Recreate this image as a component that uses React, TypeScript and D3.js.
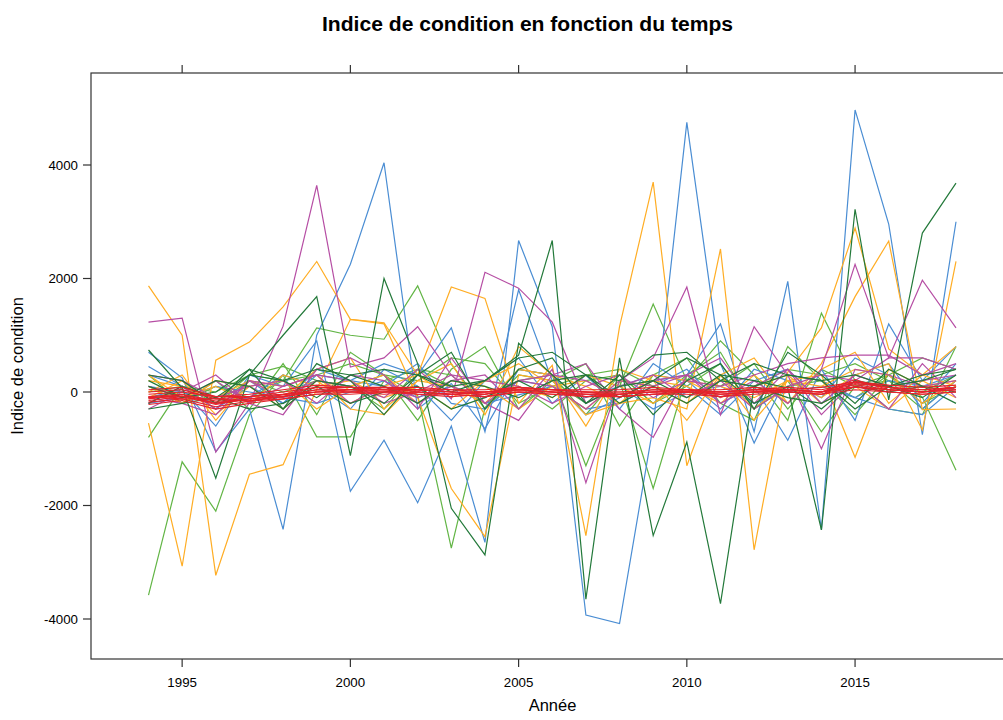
import React from 'react';
import * as d3 from 'd3';

const years = [1994, 1995, 1996, 1997, 1998, 1999, 2000, 2001, 2002, 2003, 2004, 2005, 2006, 2007, 2008, 2009, 2010, 2011, 2012, 2013, 2014, 2015, 2016, 2017, 2018];
const xTickValues = [1995, 2000, 2005, 2010, 2015];
const yTickValues = [-4000, -2000, 0, 2000, 4000];

const blueSeries = [
  [700, 250, -1050, -300, -2420, 1000, 2250, 4040, -300, 150, -650, 400, 300, -200, 100, 300, 200, -300, 400, 200, -100, 600, 300, -200, 500],
  [-100, 50, -600, 300, 100, 900, -1750, -850, -1950, -600, -2650, 2670, 1150, -3930, -4080, -600, 4750, 500, -900, 300, 200, -100, 200, 100, 300],
  [300, 100, -300, 100, -200, 300, 200, 500, 300, 1130, -700, 1800, 200, -400, -100, 200, 300, 1200, -700, 1950, -2430, 4970, 2960, -750, 3000],
  [450, 100, -300, 200, -200, 400, 200, 100, 500, -200, -300, 200, 100, -300, -200, 100, 400, -200, 100, -850, 400, -500, 1200, 200, 800],
  [-200, -100, 100, 0, -100, -200, 0, 200, -100, 100, -200, -50, 100, -100, 100, -300, 0, 100, -200, 0, 100, -100, -300, -400, 100],
  [100, 0, -200, -100, 300, 100, -300, 400, 100, -500, 200, 600, -200, 300, -300, 500, 100, -400, 200, 400, -200, 300, 500, -300, 200],
];
const orangeSeries = [
  [-550, -3070, 560, 880, 1500, 2300, 1280, 1220, 300, -100, 200, 500, 100, -300, 200, 100, -200, 300, -300, 200, 100, 400, 300, -200, 200],
  [1870, 1000, -3230, -1450, -1280, 50, 1280, 1200, -100, -1700, -2550, 300, 200, -400, -200, 300, 200, -100, 100, 300, -200, 100, -300, 200, -100],
  [100, -200, 200, 100, -300, 200, -200, 100, 300, 1850, 1650, -200, 470, -2530, 1150, 3700, -1300, 300, -500, 200, 300, -1150, 400, 100, 200],
  [200, 100, -100, 200, 100, 300, -300, -400, 200, 100, -200, 400, 300, 100, -200, -100, -300, 2520, -2780, 350, 1130, 2890, 760, 300, 800],
  [-100, 200, -400, 100, 200, -300, 100, 300, -200, 200, 100, -300, 100, 200, -100, 200, 100, -200, 300, -200, 500, 1680, 2660, -310, -300],
  [300, -100, 100, -200, 300, 100, 200, -100, 100, -300, 200, 100, -100, 300, 100, -200, 200, 100, -100, 200, -100, 300, 500, -670, 2300],
  [0, 300, -500, 200, -100, 400, 600, -300, 200, 500, -400, 800, 300, -600, 400, 200, -500, 300, 600, -200, 400, 700, -200, 300, 100],
];
const darkGreenSeries = [
  [740, 70, -1520, 300, 1000, 1680, -1120, 2000, 500, -2050, -2870, 860, 300, -200, 100, 200, 600, 300, -200, 100, -300, 200, 100, -100, 300],
  [100, -100, 200, 100, -300, 200, 100, -200, 300, 100, 200, 650, 2670, -3650, 600, -2530, -880, -3730, 100, 300, 200, -300, 100, 200, 400],
  [-200, 100, -100, 300, 200, -100, 300, 100, -200, 200, 100, -100, 200, 300, -100, 200, -100, 300, 200, 70, -2430, 3220, -140, 2800, 3680],
  [300, 200, -200, 400, 200, 400, 300, 400, 300, 0, 200, 600, 700, 300, 200, 650, 700, 200, 500, 300, 200, 300, 100, 300, 400],
  [-300, -200, -100, -300, -200, 100, -200, 0, 100, -300, -100, 200, -100, 300, -200, 100, -200, 200, 100, -100, -200, 100, 0, 100, 0],
  [200, -100, 0, 400, -300, 500, 200, -400, 300, 700, -300, 400, 600, -200, 300, -400, 200, 500, -300, 700, 300, -200, 400, 100, -200],
];
const lightGreenSeries = [
  [-3580, -1230, -2100, -400, 300, -790, -790, 200, 400, 300, -200, 100, -300, 200, 300, -200, 100, 500, -300, 100, 200, -100, 300, -200, 100],
  [-800, 100, -200, 300, 200, 1130, 1000, 930, 1870, 490, -300, 300, 200, -200, 100, 1550, 200, 900, 300, -500, 1390, 200, -300, -400, 800],
  [100, -200, 100, -100, 200, 300, 500, 300, -60, -2750, -280, 400, 300, -1300, 200, -1700, 300, 700, -300, 200, -700, 100, 300, -90, -1380],
  [-100, 0, -200, 200, 0, 200, 100, 300, 200, 600, 500, -200, 100, 300, 400, 100, -100, 200, 100, 400, 300, 500, 200, -300, 200],
  [0, 100, 0, 300, 450, 200, 100, -300, 400, 100, -100, 200, 300, -400, 300, -200, 300, 100, 500, -300, 400, 100, 200, 0, 300],
  [300, -200, 200, -300, 500, -400, 700, 300, -500, 400, 800, -300, 200, 500, -600, 300, 600, -200, -500, 800, 200, -400, 300, 600, 400],
];
const magentaSeries = [
  [1230, 1300, -1060, -190, 1160, 3640, 440, 600, 1150, 300, -200, 200, 100, -300, 200, 100, 300, -200, 100, 400, -200, 300, 100, 200, 300],
  [-200, 100, -300, 200, -100, 200, 100, -100, 400, -120, 2110, 1830, 1230, -200, 100, 300, -100, 200, -300, 100, 300, 200, 600, 600, 400],
  [100, -100, 200, -200, 100, 300, -200, 100, -100, 200, 300, -300, 400, -1600, 200, 600, 1850, -400, 1150, 300, -1000, 400, 300, 100, 200],
  [300, 200, -100, 100, 200, -200, 300, 200, -200, 100, -100, 200, 300, 200, -100, 200, 300, -100, 200, -200, 400, 2250, 600, 1970, 1130],
  [-100, -200, -400, 200, 100, 300, 200, -200, 0, 300, 200, 100, -200, 100, 300, -100, 200, 100, 300, 500, 600, 650, 650, 300, 500],
  [-300, 0, 300, -200, -400, 400, 600, 300, -300, 600, -200, -500, 300, 500, -300, -800, 300, 600, -200, 400, -400, 200, -300, 500, -100],
];
const redSeries = [
  [-100, -70, -200, -120, -50, 40, 40, 0, 40, 0, -40, 40, 0, -40, -40, 0, 40, -40, 0, 40, 0, 130, 40, 0, 40],
  [-180, -120, -260, -160, -80, 0, 40, 80, 0, -40, 0, 80, 40, 0, -80, -40, 0, 0, 40, 0, -40, 180, 80, 40, 80],
  [0, 40, -120, -80, 0, 80, 80, 40, 40, 40, 0, 40, 40, 0, 0, 40, 40, 0, 40, 80, 40, 150, 80, 40, 80],
  [-80, -40, -160, -150, -80, 0, 0, -40, 0, -40, -80, 0, -40, -40, -80, -40, 0, -80, 0, 0, -40, 90, 0, -40, 0],
  [-220, -150, -300, -200, -120, -40, 0, 40, -40, -80, -40, 40, 0, -80, -40, 0, 0, -40, 0, 40, 0, 220, 40, 0, 80],
  [40, 80, -80, -40, 40, 120, 80, 80, 80, 40, 40, 80, 40, 40, 40, 80, 40, 40, 80, 40, 80, 180, 120, 80, 120],
  [-150, -80, -220, -120, -80, 40, 0, 0, 0, -40, 0, 0, 0, -40, -40, 0, 0, -40, 0, 0, 0, 90, 40, 0, 40],
  [-40, 0, -80, -80, -40, 0, 40, 40, 40, 0, 0, 40, 0, 0, 0, 0, 40, 0, 0, 40, 0, 90, 40, 0, 40],
  [-120, -40, -200, -80, -40, 80, 40, 80, 40, 0, -40, 80, 40, 0, -40, 40, 0, 0, 40, 40, 0, 180, 80, 0, 80],
  [-80, -120, -120, -160, -120, -40, -40, 0, -40, -40, -80, 0, -40, -80, -80, -40, -40, -80, -40, 0, -40, 40, 0, -40, 0],
];

const colorBlue = '#4a8dd3';
const colorOrange = '#ffad24';
const colorDarkGreen = '#23793a';
const colorLightGreen = '#62b545';
const colorMagenta = '#b64ea4';
const colorRed = '#e5222b';

const FONT = '"Liberation Sans", Arial, Helvetica, sans-serif';

export default function App() {
  const W = 1003;
  const H = 720;
  const panel = { left: 91, top: 73, right: 1014, bottom: 659 };
  const x = d3.scaleLinear().domain([1994, 2018]).range([148.5, 956]);
  const y = d3.scaleLinear().domain([-4000, 4000]).range([619, 165]);
  const line = d3
    .line<number>()
    .x((_, i) => x(years[i]))
    .y((d) => y(d));

  const groups = [
    { color: colorLightGreen, series: lightGreenSeries },
    { color: colorBlue, series: blueSeries },
    { color: colorOrange, series: orangeSeries },
    { color: colorMagenta, series: magentaSeries },
    { color: colorDarkGreen, series: darkGreenSeries },
    { color: colorRed, series: redSeries },
  ];

  const tickLen = 8;

  return (
    <svg
      width={W}
      height={H}
      style={{ position: 'absolute', left: 0, top: 0, display: 'block', background: '#fff' }}
      fontFamily={FONT}
    >
      <rect x={0} y={0} width={W} height={H} fill="#fff" />
      <text
        x={527.5}
        y={31}
        textAnchor="middle"
        fontSize={20}
        fontWeight="bold"
        fill="#000"
        textLength={411}
        lengthAdjust="spacingAndGlyphs"
      >
        Indice de condition en fonction du temps
      </text>
      <defs>
        <clipPath id="panelClip">
          <rect x={panel.left} y={panel.top} width={panel.right - panel.left} height={panel.bottom - panel.top} />
        </clipPath>
      </defs>
      <g clipPath="url(#panelClip)">
        {groups.map((g, gi) =>
          g.series.map((s, si) => (
            <path
              key={`${gi}-${si}`}
              d={line(s) || ''}
              fill="none"
              stroke={g.color}
              strokeWidth={1.2}
              strokeLinejoin="miter"
            />
          ))
        )}
      </g>
      <rect
        x={panel.left}
        y={panel.top}
        width={panel.right - panel.left}
        height={panel.bottom - panel.top}
        fill="none"
        stroke="#333"
        strokeWidth={1.2}
      />
      {xTickValues.map((t) => (
        <g key={`xt${t}`}>
          <line x1={x(t)} x2={x(t)} y1={panel.bottom} y2={panel.bottom + tickLen} stroke="#333" strokeWidth={1.2} />
          <line x1={x(t)} x2={x(t)} y1={panel.top} y2={panel.top - tickLen} stroke="#333" strokeWidth={1.2} />
          <text x={x(t)} y={687} textAnchor="middle" fontSize={13.3} fill="#000">
            {t}
          </text>
        </g>
      ))}
      {yTickValues.map((t) => (
        <g key={`yt${t}`}>
          <line x1={panel.left} x2={panel.left - tickLen} y1={y(t)} y2={y(t)} stroke="#333" strokeWidth={1.2} />
          <text x={78} y={y(t) + 4.6} textAnchor="end" fontSize={13.3} fill="#000">
            {t}
          </text>
        </g>
      ))}
      <text x={552.5} y={711} textAnchor="middle" fontSize={16.5} fill="#000">
        Année
      </text>
      <text
        transform={`translate(23, ${(panel.top + panel.bottom) / 2}) rotate(-90)`}
        textAnchor="middle"
        fontSize={16.5}
        fill="#000"
      >
        Indice de condition
      </text>
    </svg>
  );
}
